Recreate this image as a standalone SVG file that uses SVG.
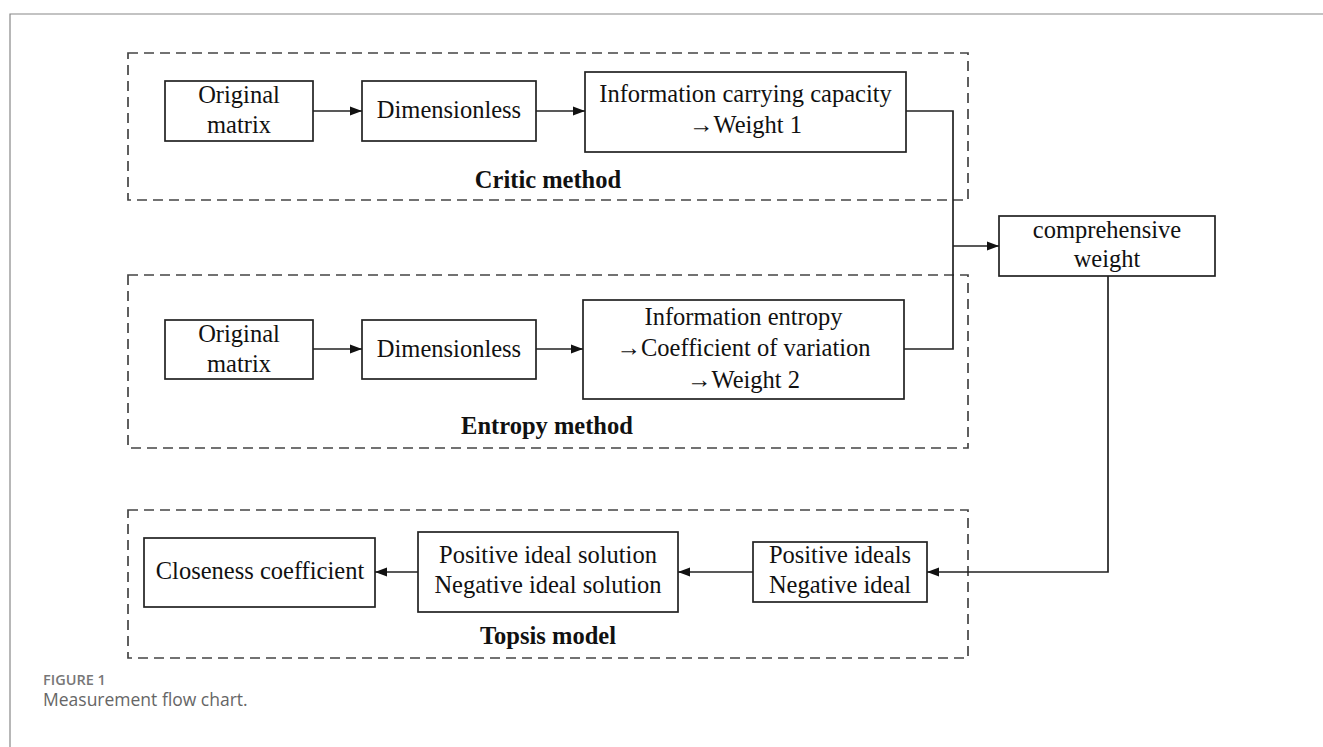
<svg xmlns="http://www.w3.org/2000/svg" width="1323" height="747" viewBox="0 0 1323 747">
<style>
.box{fill:#fff;stroke:#222;stroke-width:1.7}
.grp{fill:none;stroke:#444;stroke-width:1.7;stroke-dasharray:10 6}
.t{font-family:"Liberation Serif","Times New Roman",serif;font-size:24.5px;fill:#111;text-anchor:middle}
.b{font-family:"Liberation Serif","Times New Roman",serif;font-size:24.5px;font-weight:bold;fill:#111;text-anchor:middle}
.ln{fill:none;stroke:#222;stroke-width:1.7}
.cap1{font-family:"Open Sans","Noto Sans",sans-serif;font-size:14.5px;font-weight:600;fill:#777}
.cap2{font-family:"Open Sans","Noto Sans",sans-serif;font-size:17.5px;fill:#666}
</style>
<defs>
<marker id="ah" viewBox="0 0 12 10" refX="12" refY="5" markerWidth="12" markerHeight="10" markerUnits="userSpaceOnUse" orient="auto">
<path d="M0,0.5 L12,5 L0,9.5 Z" fill="#111"/>
</marker>
</defs>
<rect width="1323" height="747" fill="#fff"/>
<path d="M10,747 L10,14 L1323,14" fill="none" stroke="#888" stroke-width="1.2"/>

<g id="critic-group">
<rect class="grp" x="128" y="53" width="840" height="147"/>
<text class="b" x="548" y="188">Critic method</text>
</g>
<g id="entropy-group">
<rect class="grp" x="128" y="275" width="840" height="173"/>
<text class="b" x="547" y="434">Entropy method</text>
</g>
<g id="topsis-group">
<rect class="grp" x="128" y="510" width="840" height="148"/>
<text class="b" x="548" y="644">Topsis model</text>
</g>

<g id="critic-original">
<rect class="box" x="165" y="81" width="148" height="60"/>
<text class="t" x="239" y="103">Original</text>
<text class="t" x="239" y="133">matrix</text>
</g>
<g id="critic-dimensionless">
<rect class="box" x="362" y="81" width="174" height="60"/>
<text class="t" x="449" y="118">Dimensionless</text>
</g>
<g id="critic-info">
<rect class="box" x="585" y="72" width="321" height="80"/>
<text class="t" x="745.5" y="102">Information carrying capacity</text>
<text class="t" x="745.5" y="133">→Weight 1</text>
</g>

<g id="entropy-original">
<rect class="box" x="165" y="320" width="148" height="59"/>
<text class="t" x="239" y="342">Original</text>
<text class="t" x="239" y="372">matrix</text>
</g>
<g id="entropy-dimensionless">
<rect class="box" x="362" y="320" width="174" height="59"/>
<text class="t" x="449" y="357">Dimensionless</text>
</g>
<g id="entropy-info">
<rect class="box" x="583" y="300" width="321" height="99"/>
<text class="t" x="743.5" y="325">Information entropy</text>
<text class="t" x="743.5" y="356">→Coefficient of variation</text>
<text class="t" x="743.5" y="388">→Weight 2</text>
</g>

<g id="comprehensive-weight">
<rect class="box" x="999" y="216" width="216" height="60"/>
<text class="t" x="1107" y="238">comprehensive</text>
<text class="t" x="1107" y="267">weight</text>
</g>

<g id="closeness">
<rect class="box" x="144" y="538" width="231" height="69"/>
<text class="t" x="260" y="579">Closeness coefficient</text>
</g>
<g id="ideal-solution">
<rect class="box" x="418" y="532" width="260" height="80"/>
<text class="t" x="548" y="563">Positive ideal solution</text>
<text class="t" x="548" y="593">Negative ideal solution</text>
</g>
<g id="ideals">
<rect class="box" x="753" y="542" width="174" height="60"/>
<text class="t" x="840" y="563">Positive ideals</text>
<text class="t" x="840" y="593">Negative ideal</text>
</g>

<g id="connectors">
<line class="ln" x1="313" y1="111" x2="362" y2="111" marker-end="url(#ah)"/>
<line class="ln" x1="536" y1="111" x2="585" y2="111" marker-end="url(#ah)"/>
<line class="ln" x1="313" y1="349" x2="362" y2="349" marker-end="url(#ah)"/>
<line class="ln" x1="536" y1="349" x2="583" y2="349" marker-end="url(#ah)"/>
<polyline class="ln" points="906,111 953,111 953,349 904,349"/>
<line class="ln" x1="953" y1="246" x2="999" y2="246" marker-end="url(#ah)"/>
<polyline class="ln" points="1108,276 1108,572 927,572" marker-end="url(#ah)"/>
<line class="ln" x1="753" y1="572" x2="678" y2="572" marker-end="url(#ah)"/>
<line class="ln" x1="418" y1="572" x2="375" y2="572" marker-end="url(#ah)"/>
</g>

<g id="caption">
<text class="cap1" x="43" y="685">FIGURE 1</text>
<text class="cap2" x="43" y="706">Measurement flow chart.</text>
</g>
</svg>
